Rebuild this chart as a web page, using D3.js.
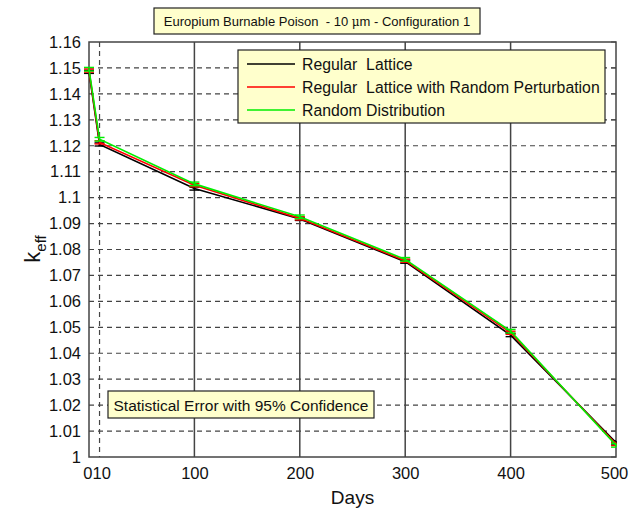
<!DOCTYPE html>
<html>
<head>
<meta charset="utf-8">
<script src="https://cdn.jsdelivr.net/npm/d3@7"></script>
<style>
  body { margin: 0; background: #fff; }
  svg { font-family: "Liberation Sans", Arial, sans-serif; }
</style>
</head>
<body>
<svg width="629" height="516"></svg>
<script>
// Burnup points (days) and k-eff for each fuel layout
const days = [0, 10, 100, 200, 300, 400, 500];
const regularLattice = [1.1485, 1.1205, 1.1035, 1.0918, 1.0753, 1.0470, 1.0056];
const perturbedLattice = [1.1490, 1.1213, 1.1048, 1.0920, 1.0757, 1.0479, 1.0050];
const randomDist = [1.1495, 1.1225, 1.1053, 1.0926, 1.0762, 1.0485, 1.0045];
// 95% confidence half-widths
const errRegular = [0.0006, 0.0006, 0.0006, 0.0006, 0.0006, 0.0006, 0.0006];
const errPerturbed = [0.0006, 0.0006, 0.0006, 0.0006, 0.0006, 0.0006, 0.0006];
const errRandom = [0.0007, 0.0007, 0.0007, 0.0007, 0.0007, 0.0007, 0.0007];

const seriesNames = ["Regular  Lattice", "Regular  Lattice with Random Perturbation", "Random Distribution"];
const seriesColors = ["#000000", "#ff0000", "#00ee00"];
const xTicks = [0, 10, 100, 200, 300, 400, 500];
const yTicks = [1, 1.01, 1.02, 1.03, 1.04, 1.05, 1.06, 1.07, 1.08, 1.09, 1.1, 1.11, 1.12, 1.13, 1.14, 1.15, 1.16];

const series = [
  {name: seriesNames[0], color: seriesColors[0], vals: regularLattice, err: errRegular},
  {name: seriesNames[1], color: seriesColors[1], vals: perturbedLattice, err: errPerturbed},
  {name: seriesNames[2], color: seriesColors[2], vals: randomDist, err: errRandom}
];

const margin = {top: 42, right: 13, bottom: 59, left: 89},
      width = 629 - margin.left - margin.right,
      height = 516 - margin.top - margin.bottom;

const svg = d3.select("svg")
  .append("g")
    .attr("transform", `translate(${margin.left},${margin.top})`);

const x = d3.scaleLinear().domain([0, 500]).range([0, width]);
const y = d3.scaleLinear().domain([1, 1.16]).range([height, 0]);

// Horizontal dashed grid
svg.append("g")
  .selectAll("line")
  .data(yTicks.slice(1, -1))
  .join("line")
    .attr("x1", 0).attr("x2", width)
    .attr("y1", d => y(d)).attr("y2", d => y(d))
    .attr("stroke", "#444")
    .attr("stroke-width", 1.2)
    .attr("stroke-dasharray", "5,4");

// Vertical grid: dashed at day 10, solid at the hundreds
svg.append("g")
  .selectAll("line")
  .data(xTicks.slice(1, -1))
  .join("line")
    .attr("x1", d => x(d)).attr("x2", d => x(d))
    .attr("y1", 0).attr("y2", height)
    .attr("stroke", "#444")
    .attr("stroke-width", d => d === 10 ? 1.2 : 1.5)
    .attr("stroke-dasharray", d => d === 10 ? "5,4" : null);

// Axes
const xAxis = svg.append("g")
  .attr("transform", `translate(0,${height})`)
  .call(d3.axisBottom(x).tickValues(xTicks).tickSize(0).tickPadding(10).tickFormat(d3.format("d")));
const yAxis = svg.append("g")
  .call(d3.axisLeft(y).tickValues(yTicks).tickSize(0).tickPadding(8).tickFormat(d => d3.format("")(+d.toFixed(2))));
[xAxis, yAxis].forEach(a => {
  a.select(".domain").remove();
  a.selectAll("text").attr("font-size", 16.5).attr("fill", "#111");
});
// "0" and "10" sit next to each other, so push them apart
xAxis.selectAll(".tick").filter(d => d === 0).select("text")
  .attr("text-anchor", "end").attr("x", 3);
xAxis.selectAll(".tick").filter(d => d === 10).select("text")
  .attr("text-anchor", "start").attr("x", -x(10) + 3);
xAxis.selectAll(".tick").filter(d => d === 500).select("text")
  .attr("x", -2);

// Small tick marks on the right edge
svg.append("g")
  .selectAll("line")
  .data(yTicks)
  .join("line")
    .attr("x1", width - 5).attr("x2", width)
    .attr("y1", d => y(d)).attr("y2", d => y(d))
    .attr("stroke", "#444");

// Plot frame
svg.append("rect")
  .attr("width", width).attr("height", height)
  .attr("fill", "none")
  .attr("stroke", "#444")
  .attr("stroke-width", 1.5);

// Lines and error bars
const line = d3.line()
  .x((d, i) => x(days[i]))
  .y(d => y(d));

series.forEach(s => {
  svg.append("path")
    .datum(s.vals)
    .attr("fill", "none")
    .attr("stroke", s.color)
    .attr("stroke-width", 1.6)
    .attr("d", line);

  const eb = svg.append("g").attr("stroke", s.color).attr("stroke-width", 1.4);
  s.vals.forEach((v, i) => {
    const cx = x(days[i]), lo = y(v - s.err[i]), hi = y(v + s.err[i]);
    const w = 5;
    eb.append("line").attr("x1", cx).attr("x2", cx).attr("y1", lo).attr("y2", hi);
    eb.append("line").attr("x1", cx - w).attr("x2", Math.min(cx + w, width)).attr("y1", lo).attr("y2", lo);
    eb.append("line").attr("x1", cx - w).attr("x2", Math.min(cx + w, width)).attr("y1", hi).attr("y2", hi);
  });
});

// Legend
const legend = d3.select("svg").append("g").attr("transform", "translate(238,50)");
legend.append("rect")
  .attr("width", 367).attr("height", 73)
  .attr("fill", "#ffffcc")
  .attr("stroke", "#222")
  .attr("stroke-width", 1.2);
series.forEach((s, i) => {
  const ly = 14 + i * 23;
  legend.append("line")
    .attr("x1", 9).attr("x2", 57)
    .attr("y1", ly).attr("y2", ly)
    .attr("stroke", s.color)
    .attr("stroke-width", 1.4);
  legend.append("text")
    .attr("x", 64).attr("y", ly)
    .attr("dy", "0.36em")
    .attr("font-size", 15.8)
    .attr("fill", "#111")
    .attr("xml:space", "preserve")
    .text(s.name);
});

// Title box
const title = d3.select("svg").append("g");
title.append("rect")
  .attr("x", 154).attr("y", 8).attr("width", 326).attr("height", 26)
  .attr("fill", "#ffffcc").attr("stroke", "#222").attr("stroke-width", 1.2);
const tt = title.append("text")
  .attr("x", 317).attr("y", 21).attr("dy", "0.36em")
  .attr("text-anchor", "middle")
  .attr("font-size", 13)
  .attr("fill", "#111")
  .attr("xml:space", "preserve");
tt.append("tspan").text("Europium Burnable Poison  - 10 ");
tt.append("tspan").attr("font-family", "DejaVu Serif").attr("font-size", 12).text("μ");
tt.append("tspan").text("m - Configuration 1");

// Note box
const note = d3.select("svg").append("g");
note.append("rect")
  .attr("x", 108).attr("y", 391).attr("width", 266).attr("height", 27)
  .attr("fill", "#ffffcc").attr("stroke", "#222").attr("stroke-width", 1.2);
note.append("text")
  .attr("x", 241).attr("y", 405).attr("dy", "0.36em")
  .attr("text-anchor", "middle")
  .attr("font-size", 15.5)
  .attr("fill", "#111")
  .text("Statistical Error with 95% Confidence");

// Axis titles
d3.select("svg").append("text")
  .attr("x", margin.left + width / 2).attr("y", 504)
  .attr("text-anchor", "middle")
  .attr("font-size", 19)
  .attr("fill", "#111")
  .text("Days");

const yl = d3.select("svg").append("text")
  .attr("transform", "translate(40,249) rotate(-90)")
  .attr("text-anchor", "middle")
  .attr("font-size", 22)
  .attr("fill", "#111");
yl.append("tspan").text("k");
yl.append("tspan").attr("font-size", 15).attr("dy", 6).text("eff");
</script>
</body>
</html>
